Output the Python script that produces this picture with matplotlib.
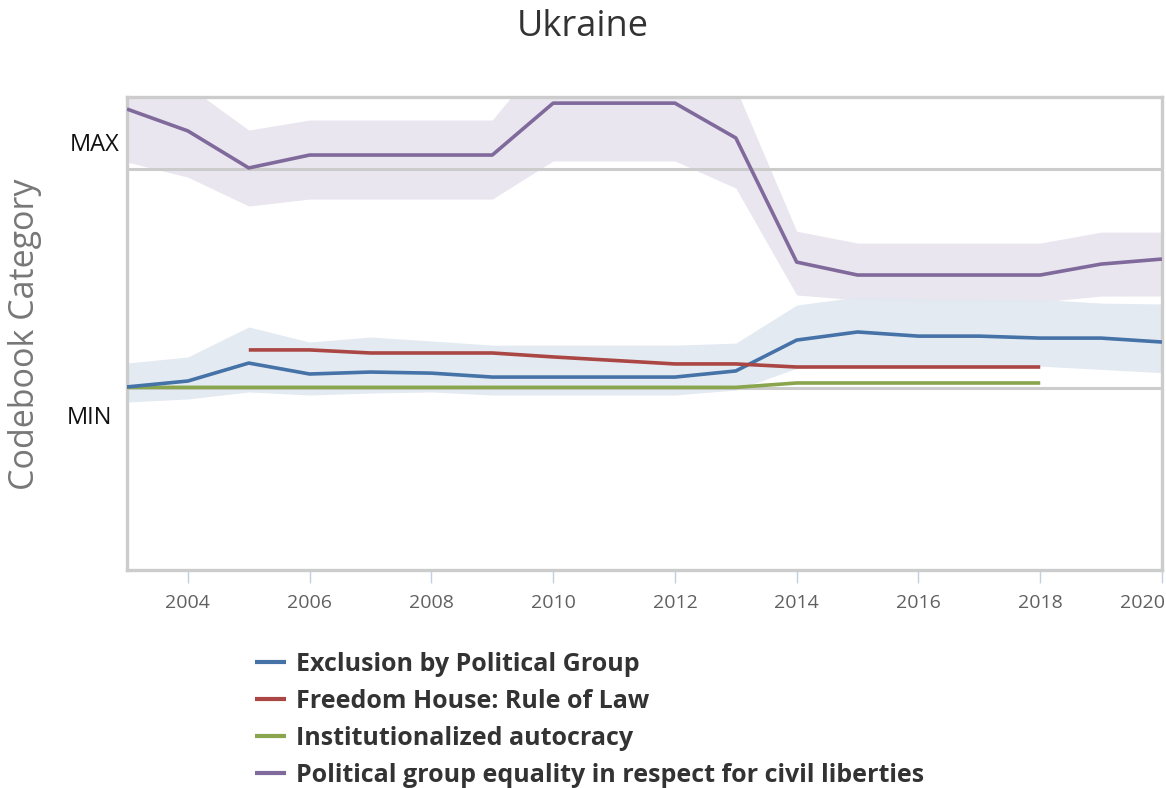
import matplotlib
matplotlib.use("Agg")
import matplotlib.pyplot as plt
import matplotlib.transforms as mtransforms
import numpy as np

years = list(range(2003, 2021))

# Exclusion by Political Group (blue)
excl = [0.005, 0.032, 0.114, 0.064, 0.073, 0.068, 0.050, 0.050, 0.050, 0.050, 0.078,
        0.219, 0.256, 0.237, 0.237, 0.228, 0.228, 0.210]
excl_hi = [0.114, 0.142, 0.279, 0.210, 0.233, 0.215, 0.196, 0.196, 0.196, 0.196, 0.205,
           0.379, 0.416, 0.410, 0.410, 0.405, 0.388, 0.384]
excl_lo = [-0.064, -0.050, -0.018, -0.032, -0.023, -0.018, -0.032, -0.032, -0.032, -0.032, -0.009,
           0.090, 0.100, 0.100, 0.100, 0.100, 0.085, 0.070]

# Freedom House: Rule of Law (red), 2005-2018
rol_years = list(range(2005, 2019))
rol = [0.174, 0.174, 0.160, 0.160, 0.160, 0.142, 0.126, 0.110, 0.110,
       0.096, 0.096, 0.096, 0.096, 0.096]

# Institutionalized autocracy (green), 2003-2018
aut_years = list(range(2003, 2019))
aut = [0.003, 0.003, 0.003, 0.003, 0.003, 0.003, 0.003, 0.003, 0.003, 0.003, 0.003,
       0.023, 0.023, 0.023, 0.023, 0.023]

# Political group equality in respect for civil liberties (purple)
peq = [1.274, 1.174, 1.005, 1.064, 1.064, 1.064, 1.064, 1.301, 1.301, 1.301, 1.142,
       0.575, 0.516, 0.516, 0.516, 0.516, 0.566, 0.589]
peq_hi = [1.50, 1.38, 1.178, 1.224, 1.224, 1.224, 1.224, 1.56, 1.56, 1.56, 1.37,
          0.716, 0.662, 0.662, 0.662, 0.662, 0.712, 0.712]
peq_lo = [1.032, 0.963, 0.831, 0.863, 0.863, 0.863, 0.863, 1.037, 1.037, 1.037, 0.913,
          0.425, 0.402, 0.393, 0.393, 0.393, 0.420, 0.420]

xticks = list(range(2004, 2021, 2))
ytick_vals = [0, 1]
ytick_labels = ["MIN", "MAX"]

names = ["Exclusion by Political Group", "Freedom House: Rule of Law",
         "Institutionalized autocracy", "Political group equality in respect for civil liberties"]
colors = ["#4572A7", "#AA4643", "#89A54E", "#80699B"]

plt.rcParams['font.family'] = ['Open Sans', 'DejaVu Sans']

W, H = 1166, 788
fig = plt.figure(figsize=(W/100, H/100), dpi=100)
ax = fig.add_axes([127/W, 1-570/H, (1162-127)/W, (570-97)/H])
ax.set_xlim(2003, 2020)
ax.set_ylim(-0.831, 1.329)

# bands
ax.fill_between(years, peq_lo, peq_hi, color="#e9e6ef", lw=0, zorder=1)
ax.fill_between(years, excl_lo, excl_hi, color="#e2e8f1", lw=0, zorder=1, alpha=0.9)

# grid lines at MIN / MAX
for v in ytick_vals:
    ax.axhline(v, color="#cccccc", lw=2.2, zorder=2)

ax.plot(years, excl, color=colors[0], lw=2.6, zorder=4, label=names[0], solid_capstyle='butt')
ax.plot(rol_years, rol, color=colors[1], lw=2.6, zorder=4, label=names[1], solid_capstyle='butt')
ax.plot(aut_years, aut, color=colors[2], lw=2.6, zorder=3, label=names[2], solid_capstyle='butt')
ax.plot(years, peq, color=colors[3], lw=2.6, zorder=4, label=names[3], solid_capstyle='butt')

for s in ax.spines.values():
    s.set_color("#cccccc")
    s.set_linewidth(2.4)

ax.set_xticks(xticks)
ax.set_xticklabels([str(x) for x in xticks], color="#606060", fontsize=14)
ax.tick_params(axis='x', length=9, width=1, color="#c0d0e0", pad=8, direction='out')
ax.set_yticks([])
# last label kept inside the figure
last = ax.get_xticklabels()[-1]
last.set_horizontalalignment('right')
last.set_transform(last.get_transform() + mtransforms.ScaledTranslation(0.03, 0, fig.dpi_scale_trans))

# MIN / MAX labels
ax.text(-0.0075, 1.0, ytick_labels[1], transform=ax.get_yaxis_transform() +
        mtransforms.ScaledTranslation(0, 0.24, fig.dpi_scale_trans),
        ha='right', va='center', fontsize=17, color="#111111")
ax.text(-0.0145, 0.0, ytick_labels[0], transform=ax.get_yaxis_transform() +
        mtransforms.ScaledTranslation(0, -0.30, fig.dpi_scale_trans),
        ha='right', va='center', fontsize=17, color="#111111")

fig.text(25/W, 1-334/H, "Codebook Category", rotation=90, fontsize=24.5, color="#777777",
         ha='center', va='center')

fig.text(0.5, 1-27/H, "Ukraine", fontsize=26, color="#333333", ha='center', va='center')

leg = fig.legend(loc='upper left', bbox_to_anchor=(255/W, 1-652/H), frameon=False,
                 prop={'weight': 'bold', 'size': 18}, handlelength=1.25, handletextpad=0.4,
                 labelspacing=0.48, borderpad=0, borderaxespad=0)
for t in leg.get_texts():
    t.set_color("#333333")
for h in leg.legend_handles:
    h.set_linewidth(3)

fig.savefig("out.png", dpi=100)
